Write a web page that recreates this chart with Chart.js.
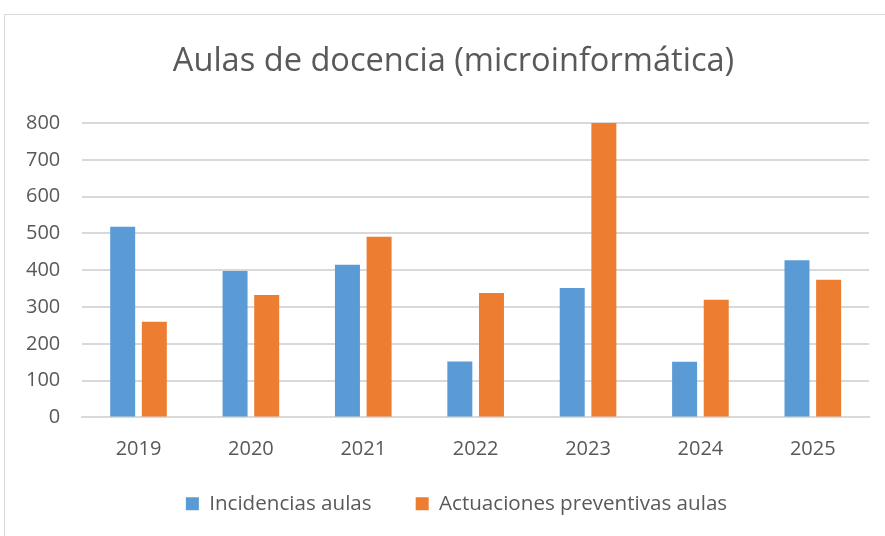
<!DOCTYPE html>
<html>
<head>
<meta charset="utf-8">
<script src="https://cdn.jsdelivr.net/npm/chart.js@4"></script>
<style>
    html, body { margin: 0; padding: 0; background: #fff; }
    #wrap { position: relative; width: 885px; height: 536px; overflow: hidden; }
    #frame {
        position: absolute; left: 4px; top: 14px; width: 900px; height: 600px;
        border: 1px solid #d9d9d9; box-sizing: border-box;
    }
    #chart { position: absolute; left: 0; top: 0; }
</style>
</head>
<body>
<div id="wrap">
    <div id="frame"></div>
    <canvas id="chart" width="885" height="536"></canvas>
</div>
<script>
// 数据
const years = ['2019', '2020', '2021', '2022', '2023', '2024', '2025'];
const incidencias = [518, 398, 415, 152, 352, 151, 427];
const preventivas = [260, 333, 491, 338, 802, 320, 374];
const yTicks = [0, 100, 200, 300, 400, 500, 600, 700, 800];

const textColor = '#595959';
const fontFamily = '"Open Sans", "DejaVu Sans", sans-serif';

// 标题和图例居中于整个图表框（框比画布更宽）
const blockShift = {
    id: 'blockShift',
    afterLayout(chart) {
        if (chart.titleBlock) {
            chart.titleBlock.left += 17;
            chart.titleBlock.right += 17;
        }
        if (chart.legend) {
            chart.legend.left += 20;
            chart.legend.right += 20;
        }
    }
};

document.addEventListener('DOMContentLoaded', function () {
    const ctx = document.getElementById('chart');

    new Chart(ctx, {
        type: 'bar',
        data: {
            labels: years,
            datasets: [{
                label: 'Incidencias aulas',
                data: incidencias,
                backgroundColor: '#5b9bd5',
                categoryPercentage: 0.563,
                barPercentage: 0.79
            }, {
                label: 'Actuaciones preventivas aulas',
                data: preventivas,
                backgroundColor: '#ed7d31',
                categoryPercentage: 0.563,
                barPercentage: 0.79
            }]
        },
        plugins: [blockShift],
        options: {
            responsive: false,
            animation: false,
            layout: {
                padding: { top: 22, left: 4, right: 16, bottom: 12 }
            },
            plugins: {
                title: {
                    display: true,
                    text: 'Aulas de docencia (microinformática)',
                    color: textColor,
                    font: { family: fontFamily, size: 32.6, weight: 'normal' },
                    padding: { top: 20, bottom: 42 }
                },
                legend: {
                    position: 'bottom',
                    labels: {
                        color: textColor,
                        font: { family: fontFamily, size: 20.6 },
                        boxWidth: 13,
                        boxHeight: 13,
                        padding: 12,
                        generateLabels: function (chart) {
                            const items = Chart.defaults.plugins.legend.labels.generateLabels(chart);
                            // 图例项之间留出更宽的间隔
                            items[0].text = items[0].text + '\u00a0\u00a0\u00a0\u00a0\u00a0\u00a0';
                            return items;
                        }
                    }
                },
                tooltip: { enabled: false }
            },
            scales: {
                x: {
                    grid: { display: false, drawTicks: false },
                    border: { color: '#d9d9d9', width: 2 },
                    ticks: {
                        color: textColor,
                        font: { family: fontFamily, size: 20 },
                        padding: 20
                    }
                },
                y: {
                    min: 0,
                    max: 800,
                    afterBuildTicks: function (axis) {
                        axis.ticks = yTicks.map(v => ({ value: v }));
                    },
                    grid: { color: '#d9d9d9', lineWidth: 2, drawTicks: false },
                    border: { display: false },
                    ticks: {
                        color: textColor,
                        font: { family: fontFamily, size: 20 },
                        padding: 22
                    }
                }
            }
        }
    });
});
</script>
</body>
</html>
